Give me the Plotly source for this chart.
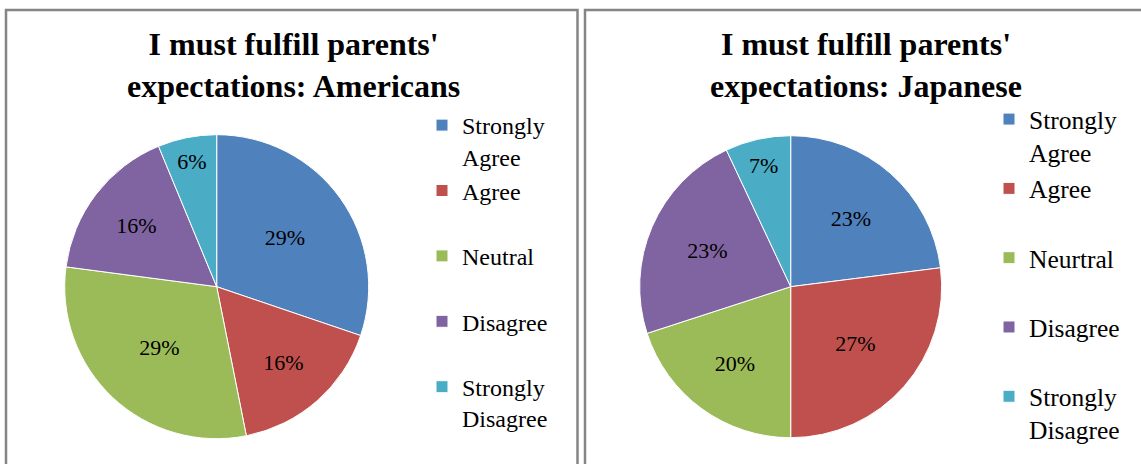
import plotly.graph_objects as go

# Survey responses: "I must fulfill parents' expectations"
categories_us = ["Strongly<br>Agree", "Agree<br> ", "Neutral<br> ", "Disagree<br> ", "Strongly<br>Disagree"]
# trailing spaces keep the second legend's entries separate from the first one's
categories_jp = ["Strongly<br>Agree ", "Agree<br>  ", "Neurtral<br> ", "Disagree<br>  ", "Strongly<br>Disagree "]
americans_pct = [29, 16, 29, 16, 6]
japanese_pct = [23, 27, 20, 23, 7]

colors = ["#4F81BD", "#C0504D", "#9BBB59", "#8064A2", "#4BACC6"]
serif = "Liberation Serif"

W, H = 1141, 464


def px_x(v):
    return v / W


def px_y(v):
    return 1 - v / H


def pie(values, labels, cx, cy, r, legend):
    return go.Pie(
        values=values,
        labels=labels,
        text=[f"{v}%" for v in values],
        textinfo="text",
        textposition="inside",
        insidetextorientation="horizontal",
        textfont=dict(family=serif, size=22, color="black"),
        marker=dict(colors=colors, line=dict(color="white", width=1)),
        sort=False,
        direction="clockwise",
        rotation=0,
        domain=dict(x=[px_x(cx - r), px_x(cx + r)], y=[px_y(cy + r), px_y(cy - r)]),
        legend=legend,
        hoverinfo="label+text",
    )


fig = go.Figure()
fig.add_trace(pie(americans_pct, categories_us, 216.7, 286.7, 152, "legend"))
fig.add_trace(pie(japanese_pct, categories_jp, 790.7, 286.7, 151, "legend2"))

legend_style = dict(
    valign="top",
    bgcolor="rgba(0,0,0,0)",
    xanchor="left",
    yanchor="top",
    traceorder="normal",
)

title_font = dict(family=serif, size=32, color="black", weight="bold")

fig.update_layout(
    width=W,
    height=H,
    margin=dict(l=0, r=0, t=0, b=0),
    paper_bgcolor="white",
    plot_bgcolor="white",
    font=dict(family=serif),
    uniformtext=dict(minsize=22, mode="show"),
    legend=dict(x=px_x(422), y=px_y(103), font=dict(family=serif, size=24, color="black"), **legend_style),
    legend2=dict(x=px_x(989), y=px_y(96), font=dict(family=serif, size=25.5, color="black"), **legend_style),
    annotations=[
        dict(text="I must fulfill parents'<br>expectations: Americans", x=px_x(293), y=px_y(65),
             xref="paper", yref="paper", xanchor="center", yanchor="middle",
             showarrow=False, font=title_font, align="center"),
        dict(text="I must fulfill parents'<br>expectations: Japanese", x=px_x(866), y=px_y(65),
             xref="paper", yref="paper", xanchor="center", yanchor="middle",
             showarrow=False, font=title_font, align="center"),
    ],
    shapes=[
        dict(type="rect", xref="paper", yref="paper", x0=px_x(6), x1=px_x(577.5), y0=-0.2, y1=px_y(10),
             line=dict(color="#858585", width=2.5)),
        dict(type="rect", xref="paper", yref="paper", x0=px_x(585), x1=1.2, y0=-0.2, y1=px_y(10),
             line=dict(color="#858585", width=2.5)),
    ],
)

fig.write_html("out.html")
